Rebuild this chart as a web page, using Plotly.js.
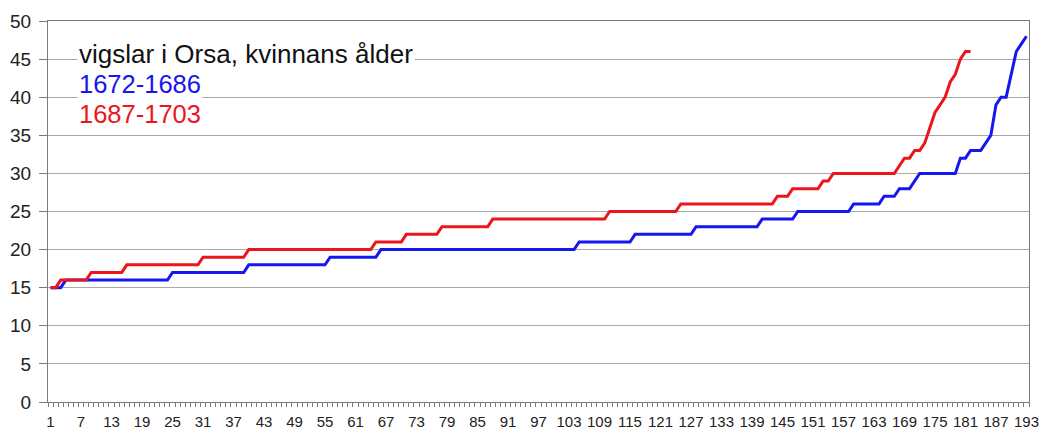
<!DOCTYPE html>
<html>
<head>
<meta charset="utf-8">
<script src="https://cdn.plot.ly/plotly-3.0.1.min.js"></script>
<style>html,body{margin:0;padding:0;background:#fff;}#chart{width:1039px;height:430px;}</style>
</head>
<body>
<div id="chart"></div>
<script>
// Women's age at marriage in Orsa, sorted ascending (one value per marriage)
const titleText = "vigslar i Orsa, kvinnans ålder";
const seriesNames = ["1672-1686", "1687-1703"];

const ages1672 = [
15,15,15,
16,16,16,16,16,16,16,16,16,16,16,16,16,16,16,16,16,16,16,16,16,
17,17,17,17,17,17,17,17,17,17,17,17,17,17,17,
18,18,18,18,18,18,18,18,18,18,18,18,18,18,18,18,
19,19,19,19,19,19,19,19,19,19,
20,20,20,20,20,20,20,20,20,20,20,20,20,20,20,20,20,20,20,20,
20,20,20,20,20,20,20,20,20,20,20,20,20,20,20,20,20,20,20,
21,21,21,21,21,21,21,21,21,21,21,
22,22,22,22,22,22,22,22,22,22,22,22,
23,23,23,23,23,23,23,23,23,23,23,23,23,
24,24,24,24,24,24,24,
25,25,25,25,25,25,25,25,25,25,25,
26,26,26,26,26,26,
27,27,27,
28,28,28,
29,
30,30,30,30,30,30,30,30,
32,32,
33,33,33,
34,35,39,40,40,43,46,47,48
];

const ages1687 = [
15,15,
16,16,16,16,16,16,
17,17,17,17,17,17,17,
18,18,18,18,18,18,18,18,18,18,18,18,18,18,18,
19,19,19,19,19,19,19,19,19,
20,20,20,20,20,20,20,20,20,20,20,20,20,20,20,20,20,20,20,20,20,20,20,20,20,
21,21,21,21,21,21,
22,22,22,22,22,22,22,
23,23,23,23,23,23,23,23,23,23,
24,24,24,24,24,24,24,24,24,24,24,24,24,24,24,24,24,24,24,24,24,24,24,
25,25,25,25,25,25,25,25,25,25,25,25,25,25,
26,26,26,26,26,26,26,26,26,26,26,26,26,26,26,26,26,26,26,
27,27,27,
28,28,28,28,28,28,
29,29,
30,30,30,30,30,30,30,30,30,30,30,30,30,
31,32,32,33,33,34,36,38,39,40,42,43,45,46,46
];

const xTickLabels = [1,7,13,19,25,31,37,43,49,55,61,67,73,79,85,91,97,103,109,115,121,127,133,139,145,151,157,163,169,175,181,187,193];
const yTickValues = [0,5,10,15,20,25,30,35,40,45,50];

const FONT = "Liberation Sans, Arial, sans-serif";

const traces = [
  {
    type: "scatter", mode: "lines", name: seriesNames[0],
    x0: 1, dx: 1, y: ages1672,
    line: {color: "rgb(22,22,238)", width: 3},
    hoverinfo: "skip"
  },
  {
    type: "scatter", mode: "lines", name: seriesNames[1],
    x0: 1, dx: 1, y: ages1687,
    line: {color: "rgb(234,22,26)", width: 3},
    hoverinfo: "skip"
  }
];

const layout = {
  width: 1039, height: 430,
  margin: {l: 48, r: 10, t: 21, b: 28, pad: 0},
  paper_bgcolor: "#fff", plot_bgcolor: "#fff",
  showlegend: false,
  font: {family: FONT, color: "#222"},
  xaxis: {
    range: [0.5, 193.5],
    tickmode: "array", tickvals: xTickLabels, ticktext: xTickLabels.map(String),
    ticks: "", showgrid: false, zeroline: false,
    ticklabelstandoff: 6,
    showline: true, linecolor: "#7a7a7a", linewidth: 1, mirror: true,
    tickfont: {family: FONT, size: 15, color: "#222"},
    minor: {tickmode: "linear", tick0: 0.5, dtick: 1, ticks: "outside", ticklen: 4, tickcolor: "#7a7a7a", tickwidth: 1, showgrid: false}
  },
  yaxis: {
    range: [0, 50],
    tickmode: "array", tickvals: yTickValues,
    ticks: "outside", ticklen: 8, tickcolor: "#7a7a7a", tickwidth: 1,
    ticklabelstandoff: 4,
    showgrid: true, gridcolor: "#a8a8a8", gridwidth: 1,
    zeroline: false,
    showline: true, linecolor: "#7a7a7a", linewidth: 1, mirror: true,
    tickfont: {family: FONT, size: 19, color: "#222"}
  },
  annotations: [
    {text: titleText, xref: "paper", yref: "paper", x: 0.0296, y: 0.914, xanchor: "left", yanchor: "middle",
     showarrow: false, bgcolor: "#fff", borderpad: 1, font: {family: FONT, size: 26, color: "#111"}},
    {text: seriesNames[0], xref: "paper", yref: "paper", x: 0.0296, y: 0.835, xanchor: "left", yanchor: "middle",
     showarrow: false, bgcolor: "#fff", borderpad: 1, font: {family: FONT, size: 25.5, color: "rgb(22,22,238)"}},
    {text: seriesNames[1], xref: "paper", yref: "paper", x: 0.0296, y: 0.755, xanchor: "left", yanchor: "middle",
     showarrow: false, bgcolor: "#fff", borderpad: 1, font: {family: FONT, size: 25.5, color: "rgb(234,22,26)"}}
  ]
};

Plotly.newPlot("chart", traces, layout, {staticPlot: true, displayModeBar: false});
</script>
</body>
</html>
